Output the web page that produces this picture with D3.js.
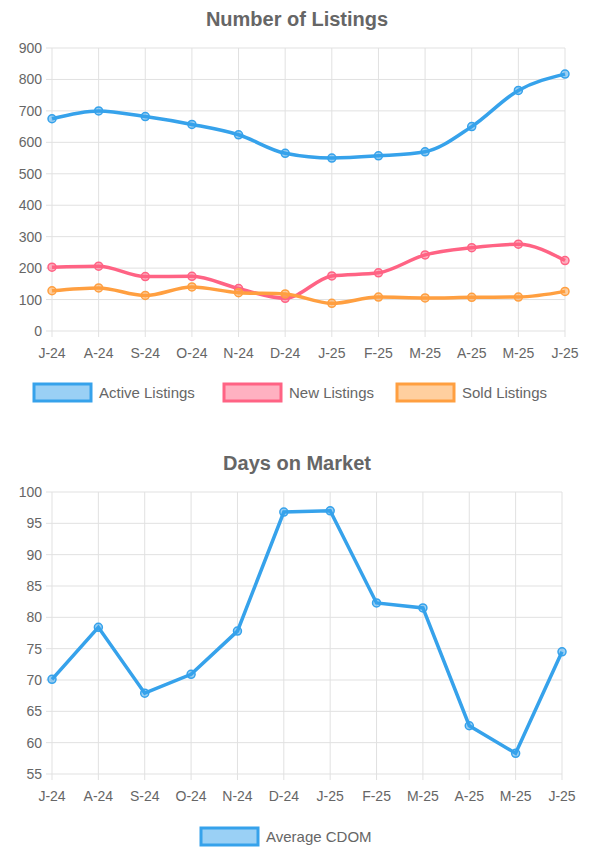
<!DOCTYPE html><html><head><meta charset="utf-8">
<script src="https://cdn.jsdelivr.net/npm/d3@7"></script>
<style>body{margin:0;background:#fff}text{font-family:Arial,"Liberation Sans",sans-serif}</style></head><body>
<svg id="c" width="595" height="865"></svg>
<script>
const months=["J-24","A-24","S-24","O-24","N-24","D-24","J-25","F-25","M-25","A-25","M-25","J-25"];
const active=[675,700,682,657,624,565,550,557,570,650,765,817];
const newL=[203,206,173,174,135,104,175,185,242,265,276,224];
const sold=[128,137,113,140,122,118,88,108,105,107,108,126];
const cdom=[70.1,78.4,67.9,70.9,77.8,96.8,97.0,82.3,81.5,62.7,58.3,74.5];
const ticks1=[0,100,200,300,400,500,600,700,800,900];
const ticks2=[55,60,65,70,75,80,85,90,95,100];
const svg=d3.select("#c");
const BLUE="#36A2EB",PINK="#FF6384",ORANGE="#FF9F40";
function chart(o){
  const x=d3.scalePoint().domain(d3.range(months.length)).range([o.x0,o.x1]);
  const y=d3.scaleLinear().domain(o.dom).range([o.y1,o.y0]);
  svg.append("text").attr("x",297).attr("y",o.ty).attr("text-anchor","middle").attr("font-size",20).attr("font-weight","bold").attr("fill","#666").text(o.title);
  const g=svg.append("g");
  o.ticks.forEach(t=>{g.append("line").attr("x1",o.x0-6).attr("x2",o.x1).attr("y1",y(t)).attr("y2",y(t)).attr("stroke","#e1e1e1");
    g.append("text").attr("x",o.x0-10).attr("y",y(t)+5).attr("text-anchor","end").attr("font-size",14).attr("fill","#666").text(t);});
  months.forEach((m,i)=>{g.append("line").attr("x1",x(i)).attr("x2",x(i)).attr("y1",o.y0).attr("y2",o.y1+6).attr("stroke","#e1e1e1");
    g.append("text").attr("x",x(i)).attr("y",o.y1+27).attr("text-anchor","middle").attr("font-size",14).attr("fill","#666").text(m);});
  o.series.forEach(s=>{
    const line=d3.line().x((d,i)=>x(i)).y(d=>y(d)).curve(o.curve);
    g.append("path").attr("d",line(s.v)).attr("fill","none").attr("stroke",s.c).attr("stroke-width",3.5);
    s.v.forEach((d,i)=>g.append("circle").attr("cx",x(i)).attr("cy",y(d)).attr("r",4).attr("fill",d3.color(s.c).copy({opacity:0.5})).attr("stroke",s.c).attr("stroke-width",1.5));
  });
  o.legend.forEach(l=>{
    g.append("rect").attr("x",l.x).attr("y",o.ly-8).attr("width",57).attr("height",17).attr("fill",d3.color(l.c).copy({opacity:0.5})).attr("stroke",l.c).attr("stroke-width",3);
    g.append("text").attr("x",l.x+65).attr("y",o.ly+6).attr("font-size",15).attr("fill","#666").text(l.t);
  });
}
chart({title:"Number of Listings",ty:26,x0:52,x1:565,y0:48,y1:331,dom:[0,900],ticks:ticks1,curve:d3.curveMonotoneX,
  series:[{v:active,c:BLUE},{v:newL,c:PINK},{v:sold,c:ORANGE}],ly:392,
  legend:[{x:34,c:BLUE,t:"Active Listings"},{x:224,c:PINK,t:"New Listings"},{x:397,c:ORANGE,t:"Sold Listings"}]});
chart({title:"Days on Market",ty:470,x0:52,x1:562,y0:492,y1:774,dom:[55,100],ticks:ticks2,curve:d3.curveLinear,
  series:[{v:cdom,c:BLUE}],ly:836,legend:[{x:201,c:BLUE,t:"Average CDOM"}]});
</script></body></html>
